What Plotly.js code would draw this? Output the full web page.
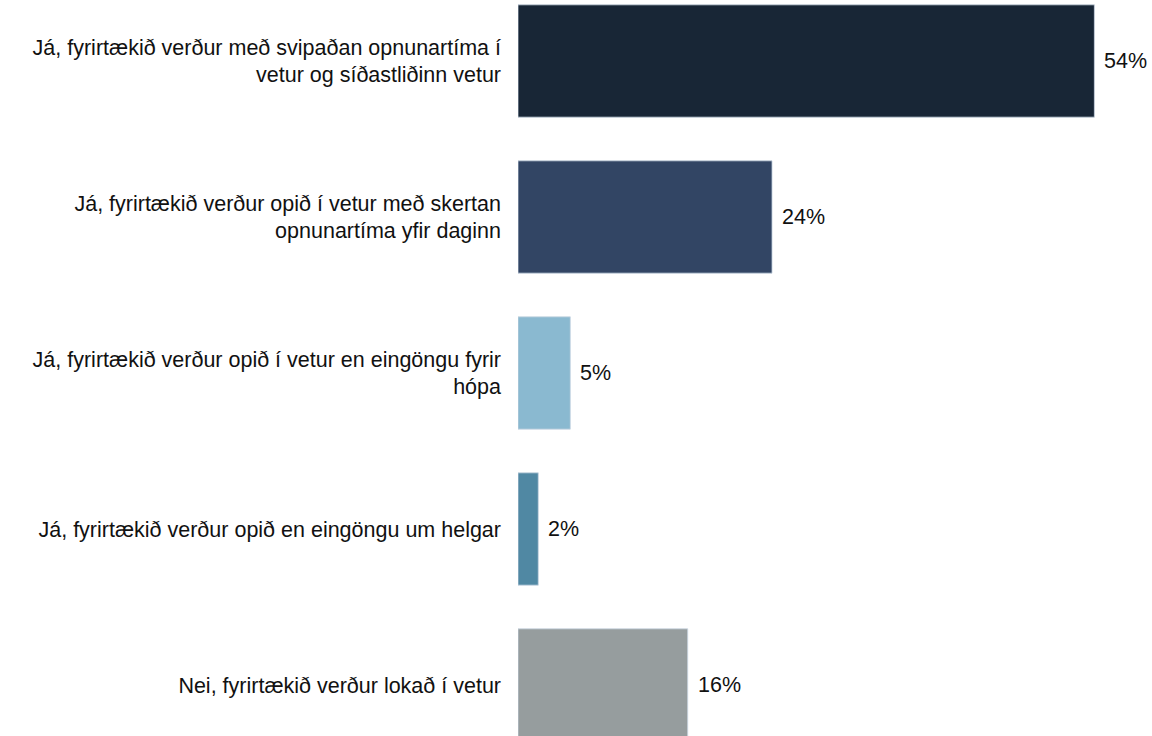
<!DOCTYPE html>
<html>
<head>
<meta charset="utf-8">
<script src="https://cdn.plot.ly/plotly-3.0.1.min.js"></script>
<style>html,body{margin:0;padding:0;background:#fff;}#chart{width:1152px;height:736px;}</style>
</head>
<body>
<div id="chart"></div>
<script>
const categories = [
  "Já, fyrirtækið verður með svipaðan opnunartíma í<br>vetur og síðastliðinn vetur",
  "Já, fyrirtækið verður opið í vetur með skertan<br>opnunartíma yfir daginn",
  "Já, fyrirtækið verður opið í vetur en eingöngu fyrir<br>hópa",
  "Já, fyrirtækið verður opið en eingöngu um helgar",
  "Nei, fyrirtækið verður lokað í vetur"
];
const values = [54, 23.8, 4.9, 1.9, 15.9];
const valueLabels = ["54%", "24%", "5%", "2%", "16%"];
const barColors = ["#182636", "#324564", "#8ab9d0", "#5088a3", "#969d9e"];

const idx = categories.map((c, i) => i);

const trace = {
  type: "bar",
  orientation: "h",
  x: values,
  y: idx,
  width: 0.72,
  marker: { color: barColors, line: { color: "#c9d5e2", width: 0.8 } },
  hoverinfo: "skip"
};

const annotations = values.map((v, i) => ({
  x: v, y: i, xref: "x", yref: "y",
  text: valueLabels[i], showarrow: false,
  xanchor: "left", yanchor: "middle", xshift: 8,
  font: { family: "Liberation Sans, Arial, sans-serif", size: 21.5, color: "#111111" }
}));

const layout = {
  width: 1152, height: 736,
  margin: { l: 518, r: 0, t: 0, b: 0, pad: 0 },
  paper_bgcolor: "#ffffff", plot_bgcolor: "#ffffff",
  showlegend: false,
  font: { family: "Liberation Sans, Arial, sans-serif", size: 21.5, color: "#111111" },
  xaxis: { range: [0, 59.4], visible: false, fixedrange: true },
  yaxis: {
    range: [4.327, -0.391],
    tickmode: "array", tickvals: idx, ticktext: categories,
    showgrid: false, zeroline: false, showline: false,
    ticks: "", ticklabelstandoff: 16,
    tickfont: { family: "Liberation Sans, Arial, sans-serif", size: 21.5, color: "#111111" }
  },
  annotations: annotations
};

Plotly.newPlot("chart", [trace], layout, { displayModeBar: false, staticPlot: true });
</script>
</body>
</html>
